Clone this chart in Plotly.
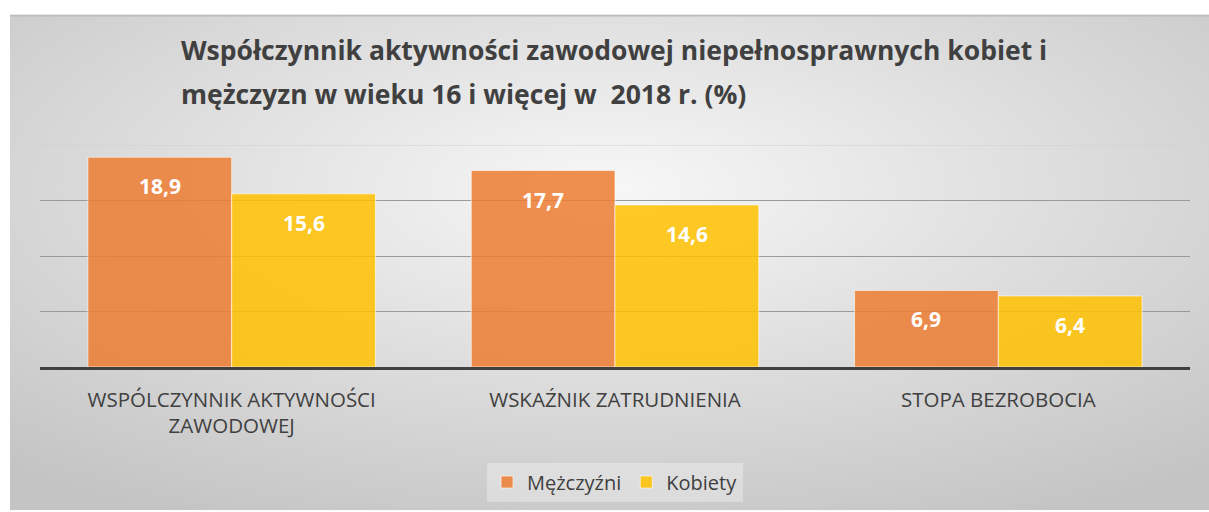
import plotly.graph_objects as go

categories = ['WSPÓLCZYNNIK AKTYWNOŚCI<br>ZAWODOWEJ', 'WSKAŹNIK ZATRUDNIENIA', 'STOPA BEZROBOCIA']
men = [18.9, 17.7, 6.9]
women = [15.6, 14.6, 6.4]
series_names = ['Mężczyźni', 'Kobiety']
title_lines = ['Współczynnik aktywności zawodowej niepełnosprawnych kobiet i',
               'mężczyzn w wieku 16 i więcej w \u00a02018 r. (%)']

FONT = 'Open Sans'
TXT = '#404040'

# obszar wykresu w pikselach: x 40..1190, y 145..368
def px_x(x):
    return (x - 40) / 1150

def px_y(y):
    return (368 - y) / 223

# tło: gradient radialny jak w Excelu
bg_svg = (
    "data:image/svg+xml;utf8,"
    "<svg xmlns='http://www.w3.org/2000/svg' width='1199' height='498'>"
    "<defs><radialGradient id='g' cx='50%' cy='35%' r='75%'>"
    "<stop offset='0%' stop-color='%23f7f7f7'/>"
    "<stop offset='100%' stop-color='%23c4c4c4'/>"
    "</radialGradient></defs>"
    "<rect width='1199' height='498' fill='url(%23g)'/>"
    "<rect width='1199' height='2' fill='%23bdbdbd'/>"
    "</svg>"
)

fig = go.Figure()
fig.add_trace(go.Bar(
    x=categories, y=men, name=series_names[0],
    marker=dict(color='rgba(237,125,49,0.85)', line=dict(color='rgba(255,255,255,0.6)', width=1)),
))
fig.add_trace(go.Bar(
    x=categories, y=women, name=series_names[1],
    marker=dict(color='rgba(255,192,0,0.85)', line=dict(color='rgba(255,255,255,0.6)', width=1)),
))

# etykiety danych wewnątrz słupków
for cat, m, w in zip(categories, men, women):
    for val, shift in ((m, -72), (w, 72)):
        fig.add_annotation(
            x=cat, y=val, xshift=shift, yshift=-29, yanchor='middle',
            text='<b>' + f'{val:.1f}'.replace('.', ',') + '</b>',
            showarrow=False, font=dict(family=FONT, size=21, color='white'),
        )

# tytuł w dwóch liniach (większy odstęp niż w plotly)
for line, ypx in zip(title_lines, (50, 94)):
    fig.add_annotation(
        xref='paper', yref='paper', x=px_x(179), y=px_y(ypx),
        xanchor='left', yanchor='middle', showarrow=False,
        text='<b>' + line + '</b>', font=dict(family=FONT, size=26.5, color=TXT),
    )

# górna, jaśniejsza linia siatki
fig.add_shape(type='line', xref='paper', x0=0, x1=1, yref='y', y0=20, y1=20,
              line=dict(color='#cfcfcf', width=1), layer='above')

fig.add_layout_image(
    source=bg_svg, xref='paper', yref='paper',
    x=px_x(10), y=px_y(14), sizex=1199 / 1150, sizey=498 / 223,
    xanchor='left', yanchor='top', sizing='stretch', layer='below',
)

fig.update_layout(
    width=1209, height=512,
    margin=dict(l=40, r=19, t=145, b=144),
    paper_bgcolor='white', plot_bgcolor='rgba(0,0,0,0)',
    font=dict(family=FONT, color=TXT),
    barmode='group', bargap=0.25, bargroupgap=0,
    xaxis=dict(
        showline=True, linecolor='#404040', linewidth=3,
        ticks='outside', tickcolor='rgba(0,0,0,0)', ticklen=12,
        tickfont=dict(family=FONT, size=20.5, color=TXT),
    ),
    yaxis=dict(
        range=[0, 20], tickvals=[5, 10, 15], showticklabels=False,
        showgrid=True, gridcolor='#9a9a9a', gridwidth=1, zeroline=False,
    ),
    legend=dict(
        orientation='h', x=0.5, xanchor='center', y=px_y(482), yanchor='middle',
        bgcolor='rgba(240,240,240,0.45)', font=dict(family=FONT, size=20, color=TXT),
        itemwidth=30, traceorder='normal',
    ),
    showlegend=True,
)

fig.write_html('out.html', config={'displayModeBar': False},
               post_script="document.body.style.margin='0';")
